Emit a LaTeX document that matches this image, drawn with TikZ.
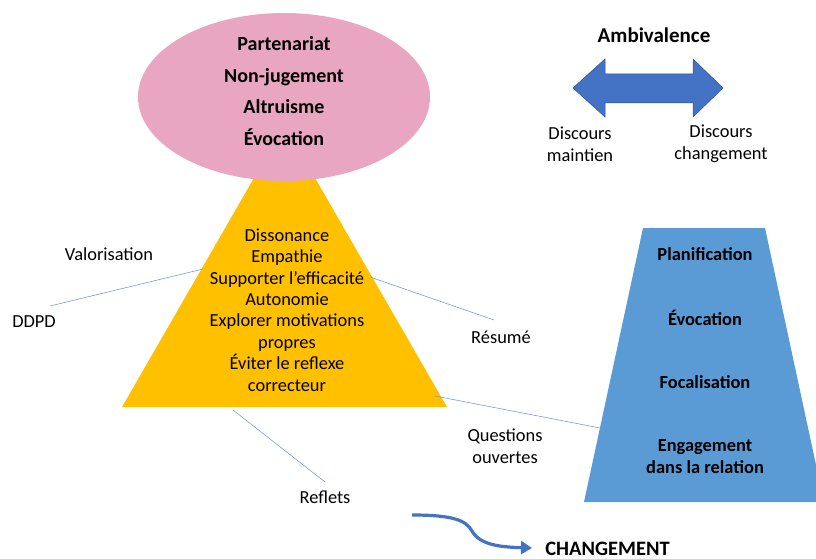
\documentclass[tikz,border=0pt]{standalone}
\usepackage{fontspec}
\setmainfont{Carlito}
\usetikzlibrary{arrows.meta,shapes.geometric}
\definecolor{pinkfill}{HTML}{E9A6C0}
\definecolor{goldfill}{HTML}{FFC000}
\definecolor{bluefill}{HTML}{5B9BD5}
\definecolor{arrowblue}{HTML}{4472C4}
\definecolor{arrowedge}{HTML}{2F528F}
\definecolor{thinline}{HTML}{7A9BD8}
\begin{document}
\begin{tikzpicture}[x=1pt,y=-1pt,
  lbl/.style={inner sep=0pt, font=\fontsize{18.4}{22}\selectfont, align=center},
  blbl/.style={lbl, font=\fontsize{18.4}{22}\selectfont\bfseries},
  link/.style={draw=thinline, line width=0.6pt}]
\useasboundingbox (0,0) rectangle (816,559);
% triangle
\path[fill=goldfill] (122,407) -- (284.5,125) -- (447,407) -- cycle;
% ellipse
\node[draw=none, fill=pinkfill, ellipse, minimum width=292pt, minimum height=168pt, inner sep=0pt] (ell) at (284,97) {};
\node[lbl, font=\fontsize{20}{31.7}\selectfont\bfseries] (elltext) at (284,91) {Partenariat\\Non-jugement\\Altruisme\\Évocation};
% triangle text
\node[lbl, font=\fontsize{18.4}{21.4}\selectfont] (tritext) at (287,310) {Dissonance\\Empathie\\Supporter l’efficacité\\Autonomie\\Explorer motivations\\propres\\Éviter le reflexe\\correcteur};
% trapezoid
\begin{scope}
\clip (0,0) rectangle (816,559);
\path[fill=bluefill] (643,228) -- (765,228) -- (824,502) -- (584,502) -- cycle;
\end{scope}
\node[blbl] (plan) at (705,254) {Planification};
\node[blbl] (evoc) at (705,318) {Évocation};
\node[blbl] (foca) at (705,382) {Focalisation};
\node[blbl] (enga) at (705,457) {Engagement\\dans la relation};
% ambivalence arrow
\node[lbl, font=\fontsize{21}{22}\selectfont\bfseries] (amb) at (654,35) {Ambivalence};
\path[fill=arrowblue, draw=arrowedge, line width=0.5pt] (573,88) -- (605,59) -- (605,74) -- (693,74) -- (693,59) -- (723,88) -- (693,117) -- (693,103) -- (605,103) -- (605,117) -- cycle;
\node[lbl] (dmain) at (580,144) {Discours\\maintien};
\node[lbl] (dchange) at (721,144) {Discours\\changement};
% labels
\node[lbl] (valo) at (109,254) {Valorisation};
\node[lbl] (ddpd) at (34,322) {DDPD};
\node[lbl] (resume) at (501,337) {Résumé};
\node[lbl] (quest) at (505,446) {Questions\\ouvertes};
\node[lbl] (reflets) at (325,497) {Reflets};
\node[lbl, font=\fontsize{20.5}{22}\selectfont\bfseries, text depth=0pt, anchor=base] (chg) at (607.5,555.5) {CHANGEMENT};
% connector coordinates
\coordinate (ddpdEnd) at (50,306);
\coordinate (valoEnd) at (203,269);
\coordinate (resA) at (370,277);
\coordinate (resB) at (494,320);
\coordinate (qA) at (435,396);
\coordinate (qB) at (600,428);
\coordinate (rA) at (233,410);
\coordinate (rB) at (325,482);
\draw[link] (ddpdEnd) -- (valoEnd);
\draw[link] (resA) -- (resB);
\draw[link] (qA) -- (qB);
\draw[link] (rA) -- (rB);
% curved arrow
\coordinate (cA) at (412,515);
\coordinate (cB) at (532,548);
\draw[arrowblue, line width=3.2pt, -{Triangle[length=11pt,width=13pt]}] (cA) .. controls (452,515) and (466,520) .. (472,531) .. controls (480,545) and (500,547) .. (cB);
\end{tikzpicture}
\end{document}
